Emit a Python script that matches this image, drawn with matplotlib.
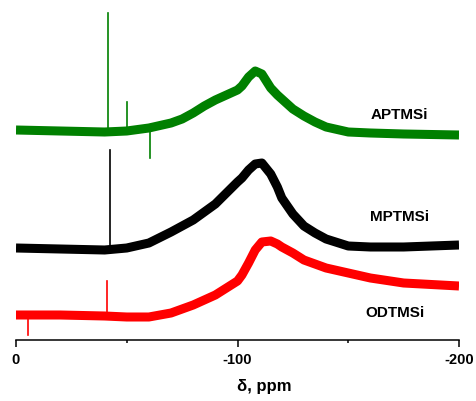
import matplotlib
matplotlib.use("Agg")
import matplotlib.pyplot as plt
from matplotlib.ticker import FixedLocator

plt.rcParams['font.family'] = ['Liberation Sans', 'DejaVu Sans']

# chemical shift grid (ppm)
ppm = [0, -20, -40, -50, -60, -70, -75, -80, -85, -90, -95, -100, -102, -105, -108,
       -111, -115, -118, -120, -125, -130, -135, -140, -150, -160, -175, -200]

# stacked intensities (arbitrary units, offsets included)
aptmsi = [210, 209, 208, 209, 212, 217, 221, 227, 234, 240, 245, 250, 254, 263, 269,
          266, 252, 245, 241, 231, 224, 218, 213, 208, 207, 206, 205]
mptmsi = [92, 91, 90, 92, 97, 108, 114, 120, 128, 136, 147, 158, 162, 170, 176,
          177, 166, 153, 142, 126, 114, 107, 101, 94, 93, 93, 95]
odtmsi = [25, 25, 24, 23, 23, 27, 31, 35, 40, 45, 52, 59, 65, 77, 90,
          98, 99, 96, 93, 87, 80, 76, 72, 67, 62, 57, 54]

# sharp spikes: (ppm, base, tip)
aptmsi_spikes = [(-41.5, 208, 327), (-50.0, 209, 238), (-60.5, 212, 182)]
mptmsi_spikes = [(-42.4, 90, 190)]
odtmsi_spikes = [(-41.0, 24, 59), (-5.4, 25, 5)]

names = ['APTMSi', 'MPTMSi', 'ODTMSi']
colors = ['#008000', '#000000', '#ff0000']
label_pos = [(-173, 225), (-173, 123), (-171, 27)]

fig = plt.figure(figsize=(4.77, 4.01), dpi=100)
ax = fig.add_axes([16/477, (401-340)/401, (459-16)/477, 340/401])

series = [aptmsi, mptmsi, odtmsi]
spikes = [aptmsi_spikes, mptmsi_spikes, odtmsi_spikes]
for ys, sp, c, name, (lx, ly) in zip(series, spikes, colors, names, label_pos):
    ax.plot(ppm, ys, color=c, lw=6.5, solid_joinstyle='round', solid_capstyle='butt')
    for x, b, t in sp:
        ax.plot([x, x], [b, t], color=c, lw=1.2)
    ax.text(lx, ly, name, ha='center', va='center', fontsize=11, fontweight='bold')

ax.set_xlim(0, -200)
ax.set_ylim(0, 340)
for s in ['top', 'left', 'right']:
    ax.spines[s].set_visible(False)
ax.spines['bottom'].set_linewidth(1.1)
ax.set_yticks([])
ax.xaxis.set_major_locator(FixedLocator([0, -100, -200]))
ax.xaxis.set_minor_locator(FixedLocator([-50, -150]))
ax.tick_params(axis='x', which='major', direction='out', length=5, width=1.1,
               labelsize=10.5, pad=4)
ax.tick_params(axis='x', which='minor', direction='out', length=2.5, width=1.1)
ax.set_xticklabels(['0', '-100', '-200'], fontweight='bold')

fig.text(264/477, 1 - 387/401, 'δ, ppm', ha='center', va='center',
         fontsize=12, fontweight='bold')

fig.savefig('out.png', dpi=100)
